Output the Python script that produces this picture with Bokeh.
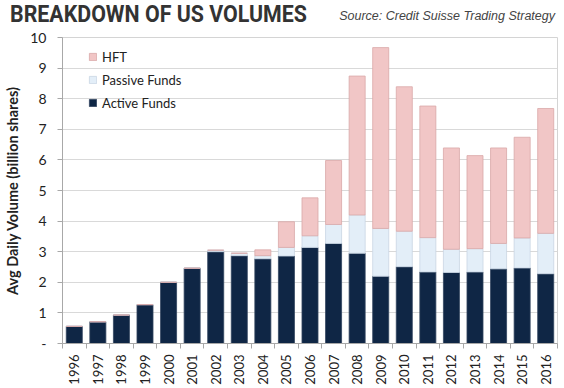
import numpy as np
from bokeh.plotting import figure
from bokeh.layouts import column
from bokeh.models import ColumnDataSource, Range1d, FixedTicker, Legend, LegendItem, Div
from bokeh.embed import file_html
from bokeh.resources import INLINE

years = [str(y) for y in range(1996, 2017)]
active = [0.56, 0.71, 0.93, 1.27, 2.00, 2.46, 3.00, 2.87, 2.77, 2.86, 3.14,
          3.27, 2.95, 2.20, 2.51, 2.34, 2.32, 2.34, 2.44, 2.47, 2.28]
passive = [0.0, 0.0, 0.0, 0.0, 0.0, 0.0, 0.05, 0.08, 0.10, 0.28, 0.38,
           0.62, 1.25, 1.56, 1.16, 1.12, 0.76, 0.76, 0.83, 0.98, 1.32]
hft = [0.0, 0.0, 0.0, 0.0, 0.0, 0.0, 0.0, 0.0, 0.19, 0.84, 1.24,
       2.09, 4.54, 5.91, 4.72, 4.30, 3.31, 3.04, 3.12, 3.29, 4.08]
y_ticks = list(range(0, 11))
y_tick_labels = {t: ("-" if t == 0 else str(t)) for t in y_ticks}

title_text = "BREAKDOWN OF US VOLUMES"
source_text = "Source: Credit Suisse Trading Strategy"
y_label = "Avg Daily Volume (billion shares)"

C_ACTIVE = "#0f2645"
C_PASSIVE = "#e3eef8"
C_HFT = "#f1c6c6"

W = 558
HEAD_H = 24
MAIN_H = 363

# ---- header (title + source)
head_html = (
    f'<div style="position:relative;width:{W}px;height:{HEAD_H}px;overflow:visible;">'
    f'<span style="position:absolute;left:10px;top:2px;font-family:Roboto;font-weight:bold;'
    f'font-size:24px;line-height:24px;color:#333333;white-space:nowrap;'
    f'transform:scaleX(0.89);transform-origin:left top;">{title_text}</span>'
    f'<span style="position:absolute;right:3px;top:10px;font-family:\'Liberation Sans\';'
    f'font-style:italic;font-size:12.5px;line-height:12.5px;color:#444444;white-space:nowrap;">'
    f'{source_text}</span></div>'
)
head = Div(text=head_html, width=W, height=HEAD_H, margin=0)

# ---- main chart
xs = list(range(len(years)))
src = ColumnDataSource(dict(x=xs, active=active, passive=passive, hft=hft))

p = figure(width=W, height=MAIN_H, output_backend="svg", toolbar_location=None,
           x_range=Range1d(-0.5, len(years) - 0.5), y_range=Range1d(0, 10),
           min_border_left=62, min_border_right=1, min_border_top=13,
           min_border_bottom=43)
p.background_fill_color = "white"
p.border_fill_color = "white"
p.outline_line_color = "#d4d4d4"

rs = p.vbar_stack(["active", "passive", "hft"], x="x", width=0.68, source=src,
                  fill_color=[C_ACTIVE, C_PASSIVE, C_HFT],
                  line_color=["#31445e", "#c9d6e3", "#d9a8a8"], line_width=0.8)

xa = p.xaxis[0]
xa.ticker = FixedTicker(ticks=xs, minor_ticks=[i - 0.5 for i in range(len(years) + 1)])
xa.major_label_overrides = {i: y for i, y in enumerate(years)}
xa.major_label_orientation = np.pi / 2
xa.major_tick_line_color = None
xa.major_tick_in = 0
xa.major_tick_out = 0
xa.minor_tick_in = 0
xa.minor_tick_out = 5
xa.minor_tick_line_color = "#a8a8a8"
xa.axis_line_color = "#a8a8a8"
xa.major_label_standoff = 6
xa.major_label_text_font = "Lato"
xa.major_label_text_font_size = "13px"
xa.major_label_text_color = "#222222"

ya = p.yaxis[0]
ya.ticker = FixedTicker(ticks=y_ticks)
ya.major_label_overrides = y_tick_labels
ya.major_tick_in = 0
ya.major_tick_out = 5
ya.major_tick_line_color = "#a8a8a8"
ya.minor_tick_line_color = None
ya.axis_line_color = "#a8a8a8"
ya.major_label_standoff = 11
ya.major_label_text_font = "Lato"
ya.major_label_text_font_size = "14px"
ya.major_label_text_color = "#222222"
ya.axis_label = y_label
ya.axis_label_text_font = "Lato"
ya.axis_label_text_font_style = "bold"
ya.axis_label_text_font_size = "14.5px"
ya.axis_label_text_color = "#222222"
ya.axis_label_standoff = 6

p.xgrid.visible = False
p.ygrid.grid_line_color = "#d9d9d9"
p.ygrid.grid_line_width = 1

legend = Legend(items=[LegendItem(label="HFT", renderers=[rs[2]]),
                       LegendItem(label="Passive Funds", renderers=[rs[1]]),
                       LegendItem(label="Active Funds", renderers=[rs[0]])],
                location=(26, 229), padding=0, margin=0, spacing=0,
                glyph_width=9, glyph_height=9, label_height=23, label_standoff=5,
                label_text_font="Lato", label_text_font_size="13px",
                label_text_color="#222222", background_fill_alpha=0,
                border_line_alpha=0)
p.add_layout(legend)

layout = column(head, p, spacing=0)
open("out.html", "w").write(file_html(layout, INLINE))
